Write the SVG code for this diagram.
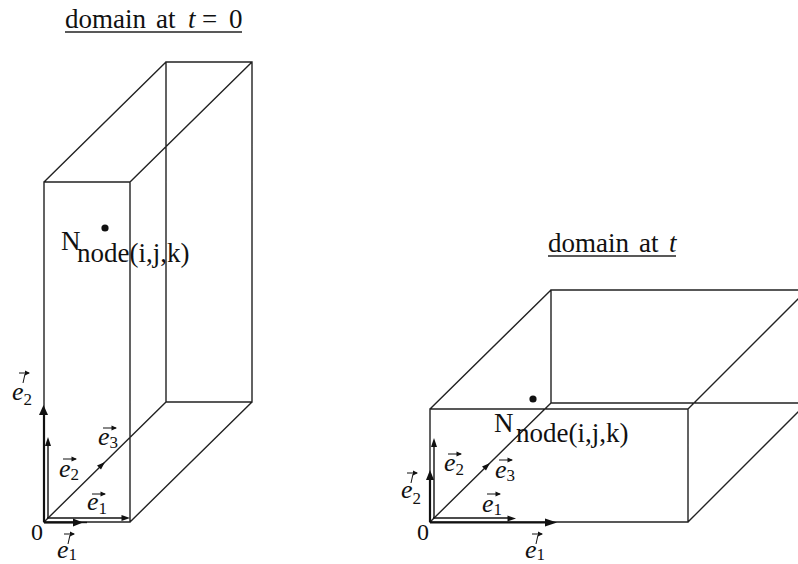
<svg xmlns="http://www.w3.org/2000/svg" xmlns:xlink="http://www.w3.org/1999/xlink" width="798" height="564" viewBox="0 0 798 564">
<style>
text{font-family:"Liberation Serif","DejaVu Serif",serif;fill:#111}
.e{font-style:italic;font-size:26px}
.s{font-size:17px;font-style:normal}
.title{font-size:27px}
.n{font-size:27px}
.z{font-size:24px}
.l{fill:none;stroke:#222;stroke-width:1.4}
.th{fill:none;stroke:#111;stroke-width:2.2}
.v{fill:none;stroke:#111;stroke-width:1.4}
.vh{fill:#111;stroke:none}
.o{fill:none;stroke:#111;stroke-width:1}
</style>
<defs>
<g id="ov"><path class="o" d="M0 0H13"/><path class="vh" d="M14 0L8.500-2.500V2.500Z"/></g>
<g id="ovt"><path class="o" d="M0 0H10M6 1L4 10"/><path class="vh" d="M11 0L6-2.500V2.500Z"/></g>
<circle id="dot" r="3.600" fill="#111"/>
</defs>
<g id="left-domain">
<text class="title" x="65" y="28">domain<tspan x="156">at</tspan><tspan x="188" font-style="italic">t</tspan><tspan x="202">=</tspan><tspan x="229">0</tspan></text>
<path d="M65 32H242" stroke="#222" stroke-width="1.300"/>
<path class="l" d="M44 182H130V522H44ZM166 62H252V402H166ZM44 182L166 62M130 182L252 62M44 522L166 402M130 522L252 402"/>
<use xlink:href="#dot" x="105" y="228"/>
<text x="61" y="250" class="n">N</text><text x="77" y="262" class="n">node(i,j,k)</text>
</g>
<g id="left-vectors">
<path class="v" d="M48 518V444"/><path class="vh" d="M48 437L45 446H51Z"/>
<path class="v" d="M47 518H124"/><path class="vh" d="M130 518L121.500 515V521Z"/>
<path class="vh" d="M105 462L97 465.500L101 469.500Z"/>
<path class="th" d="M44 522V414"/><path class="vh" d="M43.500 405L39 415H48Z"/>
<path class="th" d="M44 522.500H76"/><path class="v" d="M76 522.500H87"/><path class="vh" d="M83 522.500L73 518.500V526.500Z"/>
<text x="31" y="540" class="z">0</text>
<text class="e" x="59" y="477">e<tspan class="s" dy="3">2</tspan></text><use xlink:href="#ov" x="63" y="459"/>
<text class="e" x="98" y="445">e<tspan class="s" dy="3">3</tspan></text><use xlink:href="#ov" x="103" y="428"/>
<text class="e" x="87" y="510">e<tspan class="s" dy="4">1</tspan></text><use xlink:href="#ov" x="92" y="494"/>
<text class="e" x="12" y="400">e<tspan class="s" dy="5">2</tspan></text><use xlink:href="#ovt" x="19" y="373"/>
<text class="e" x="57" y="558">e<tspan class="s" dy="2">1</tspan></text><use xlink:href="#ovt" x="64" y="534"/>
</g>
<g id="right-domain">
<text class="title" x="548" y="252">domain<tspan x="639">at</tspan><tspan x="669" font-style="italic">t</tspan></text>
<path d="M548 256H676" stroke="#222" stroke-width="1.300"/>
<path class="l" d="M430 409H688V522H430ZM798 290H551V403H798M430 409L551 290M688 409L807 290M430 522L551 403M688 522L807 403"/>
<use xlink:href="#dot" x="533" y="399"/>
<text x="494" y="432" class="n">N</text><text x="516" y="442" class="n">node(i,j,k)</text>
</g>
<g id="right-vectors">
<path class="v" d="M434 518V445"/><path class="vh" d="M434 438L431 447H437Z"/>
<path class="v" d="M433 518H510"/><path class="vh" d="M516 518.500L507.500 515.500V521.500Z"/>
<path class="vh" d="M490 463L482 466.500L486 470.500Z"/>
<path class="th" d="M430 522V478"/><path class="vh" d="M430 470L426 480H434Z"/>
<path class="th" d="M430 522.500H550"/><path class="vh" d="M557 522.500L545 518.500V526.500Z"/>
<text x="417" y="540" class="z">0</text>
<text class="e" x="444" y="471">e<tspan class="s" dy="4">2</tspan></text><use xlink:href="#ov" x="448" y="454"/>
<text class="e" x="495" y="478">e<tspan class="s" dy="3">3</tspan></text><use xlink:href="#ov" x="499" y="460"/>
<text class="e" x="482" y="512">e<tspan class="s" dy="3">1</tspan></text><use xlink:href="#ov" x="487" y="494"/>
<text class="e" x="401" y="498">e<tspan class="s" dy="6">2</tspan></text><use xlink:href="#ovt" x="407" y="473"/>
<text class="e" x="525" y="558">e<tspan class="s" dy="2">1</tspan></text><use xlink:href="#ovt" x="532" y="534"/>
</g>
</svg>
